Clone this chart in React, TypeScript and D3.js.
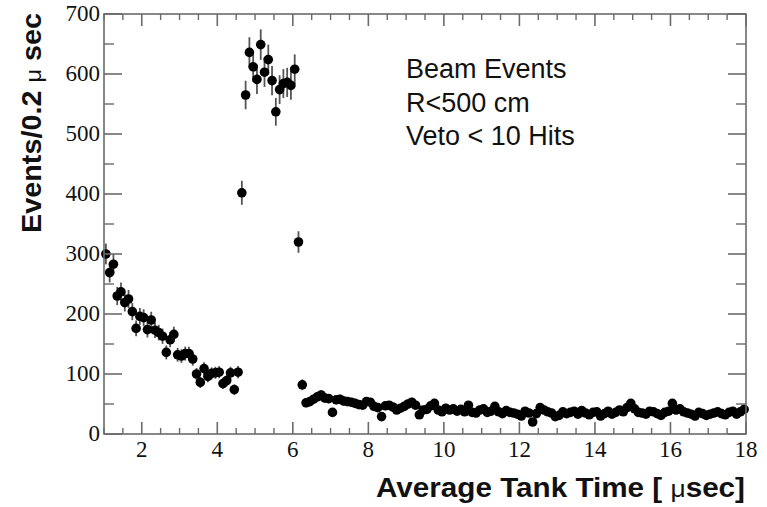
import React from "react";
import * as d3 from "d3";

// Histogram of events per bin (bin centres start at 1.05 μs, step 0.1 μs)
const earlyCounts = [
  300, 269, 283, 230, 237, 219, 225, 204, 176, 196, 194, 174, 190, 173, 169, 163, 136, 157,
  166, 132, 130, 134, 134, 125, 100, 86, 109, 96, 101, 102, 103, 84, 89, 102, 74, 103,
];
const peakCounts = [402, 565, 636, 612, 591, 649, 603, 624, 589, 537, 574, 584, 586, 581, 608, 320, 82];
const tailCounts = [
  52, 54, 58, 62, 65, 60, 59, 36, 57, 58,
  55, 54, 53, 51, 49, 48, 54, 53, 46, 44,
  29, 47, 48, 45, 40, 43, 46, 50, 53, 48,
  32, 40, 41, 47, 51, 40, 37, 43, 40, 42,
  38, 41, 37, 48, 36, 35, 40, 42, 36, 38,
  46, 37, 34, 39, 36, 35, 33, 30, 38, 35,
  20, 34, 44, 40, 37, 35, 29, 31, 37, 34,
  36, 38, 33, 39, 35, 32, 36, 37, 30, 34,
  38, 33, 36, 40, 37, 44, 51, 42, 36, 35,
  33, 38, 37, 34, 31, 36, 38, 51, 40, 42,
  37, 35, 33, 30, 36, 34, 31, 33, 35, 37,
  34, 32, 36, 38, 33, 37, 41,
];
const counts = [...earlyCounts, ...peakCounts, ...tailCounts];
const firstBinCentre = 1.05;
const binStep = 0.1;

const xTicks = [2, 4, 6, 8, 10, 12, 14, 16, 18];
const yTicks = [0, 100, 200, 300, 400, 500, 600, 700];
const legendLines = ["Beam Events", "R<500 cm", "Veto < 10 Hits"];

const W = 767;
const H = 507;
const left = 104;
const right = 746;
const top = 14;
const bottom = 434;

export default function App() {
  const x = d3.scaleLinear().domain([1, 18]).range([left, right]);
  const y = d3.scaleLinear().domain([0, 700]).range([bottom, top]);
  const frame = "#6b6b6b";
  const serif = "'Liberation Serif', 'DejaVu Serif', serif";
  const sans = "'Liberation Sans', Arial, sans-serif";

  const xMinor = d3.range(1, 18.001, 0.5).filter((v) => !xTicks.includes(v));
  const yMinor = d3.range(50, 700, 100);

  const pts = counts.map((c, i) => ({ t: firstBinCentre + i * binStep, c }));

  return (
    <svg
      width={W}
      height={H}
      style={{ position: "absolute", left: 0, top: 0, background: "#fff" }}
    >
      {/* error bars */}
      {pts.map((p, i) => (
        <line
          key={"e" + i}
          x1={x(p.t)}
          x2={x(p.t)}
          y1={y(p.c + Math.sqrt(p.c))}
          y2={y(Math.max(0, p.c - Math.sqrt(p.c)))}
          stroke="#555"
          strokeWidth={1.8}
        />
      ))}
      {/* points */}
      {pts.map((p, i) => (
        <circle key={"p" + i} cx={x(p.t)} cy={y(p.c)} r={4.8} fill="#000" />
      ))}

      {/* frame */}
      <rect x={left} y={top} width={right - left} height={bottom - top} fill="none" stroke={frame} strokeWidth={1.6} />

      {/* x ticks bottom and top */}
      {xTicks.map((v) => (
        <g key={"xt" + v}>
          <line x1={x(v)} x2={x(v)} y1={bottom} y2={bottom - 12} stroke={frame} strokeWidth={1.6} />
          <line x1={x(v)} x2={x(v)} y1={top} y2={top + 12} stroke={frame} strokeWidth={1.6} />
          <text x={x(v)} y={bottom + 23} textAnchor="middle" fontFamily={serif} fontSize={23} fill="#111">
            {v}
          </text>
        </g>
      ))}
      {xMinor.map((v) => (
        <g key={"xm" + v}>
          <line x1={x(v)} x2={x(v)} y1={bottom} y2={bottom - 6} stroke={frame} strokeWidth={1.4} />
          <line x1={x(v)} x2={x(v)} y1={top} y2={top + 6} stroke={frame} strokeWidth={1.4} />
        </g>
      ))}

      {/* y ticks left and right */}
      {yTicks.map((v) => (
        <g key={"yt" + v}>
          <line x1={left} x2={left + 18} y1={y(v)} y2={y(v)} stroke={frame} strokeWidth={1.6} />
          <line x1={right} x2={right - 18} y1={y(v)} y2={y(v)} stroke={frame} strokeWidth={1.6} />
          <text x={left - 4} y={y(v) + 7} textAnchor="end" fontFamily={serif} fontSize={23} fill="#111">
            {v}
          </text>
        </g>
      ))}
      {yMinor.map((v) => (
        <g key={"ym" + v}>
          <line x1={left} x2={left + 10} y1={y(v)} y2={y(v)} stroke={frame} strokeWidth={1.4} />
          <line x1={right} x2={right - 10} y1={y(v)} y2={y(v)} stroke={frame} strokeWidth={1.4} />
        </g>
      ))}

      {/* axis titles */}
      <text x={745} y={497} textAnchor="end" fontFamily={sans} fontWeight="bold" fontSize={27} fill="#111"
        textLength={369} lengthAdjust="spacingAndGlyphs">
        Average Tank Time [ <tspan fontWeight="normal" fontSize={24}>μ</tspan>sec]
      </text>
      <text
        transform={`translate(41, 13) rotate(-90)`}
        textAnchor="end"
        fontFamily={sans}
        fontWeight="bold"
        fontSize={27}
        fill="#111"
        textLength={220}
        lengthAdjust="spacingAndGlyphs"
      >
        Events/0.2 <tspan fontWeight="normal" fontSize={22}>μ</tspan> sec
      </text>

      {/* legend */}
      {legendLines.map((s, i) => (
        <text key={s} x={406} y={78 + i * 33.5} fontFamily={sans} fontSize={27} fill="#111">
          {s}
        </text>
      ))}
    </svg>
  );
}
